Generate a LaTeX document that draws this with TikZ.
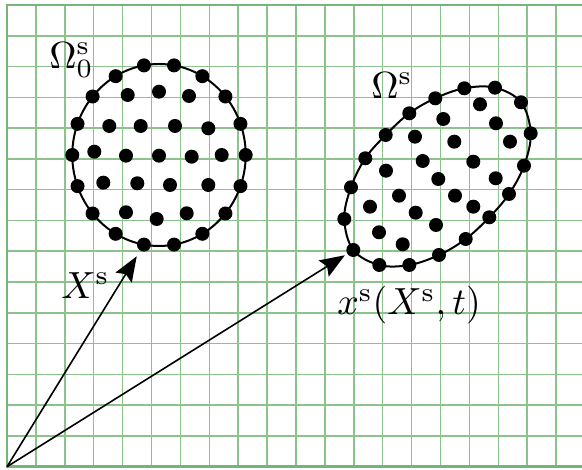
\documentclass[tikz,border=0pt]{standalone}
\usetikzlibrary{arrows.meta}
\definecolor{gridgreen}{RGB}{140,195,140}
\definecolor{bordergreen}{RGB}{120,180,120}
\begin{document}
\begin{tikzpicture}[x=1pt,y=1pt,
  gridline/.style={draw=gridgreen,line width=1.5pt},
  borderline/.style={draw=bordergreen,line width=2.8pt},
  dot/.style={circle,fill=black,inner sep=0pt,minimum size=14pt},
  outline/.style={draw=black,line width=2pt},
  vec/.style={line width=1.6pt,-{Stealth[length=25pt,width=19pt,inset=4pt]}},
  lbl/.style={inner sep=0pt,scale=3.78,anchor=base west}]
\useasboundingbox (0,0) rectangle (582,470);
\clip (0,0) rectangle (582,470);
% grid
\foreach \k in {1,...,19} \draw[gridline] ({7+28.9*\k},3.3) -- ({7+28.9*\k},465);
\foreach \k in {1,...,14} \draw[gridline] (7,{3.3+30.78*\k}) -- (582,{3.3+30.78*\k});
\draw[borderline] (590,465) -- (7,465) -- (7,3.3) -- (590,3.3);
% reference configuration
\draw[outline] (159,315) ellipse [x radius=86.7, y radius=91];
\foreach \a [count=\i] in {0,20,...,340}
  \node[dot] (b\i) at ({159+86.7*cos(\a)},{315+91*sin(\a)}) {};
\foreach \x/\y [count=\i] in {127.7/375,159/378.3,189/374,109.3/344,140.7/344,175/344,208.3/341.7,94.3/318.3,126/314.3,159/314.3,191.7/313.3,221.7/315,103.3/287.3,137.3/286.7,170/285,208.3/285,126/257.7,156.7/251,186.7/256.7}
  \node[dot] (bi\i) at (\x,\y) {};
% current configuration
\draw[outline] plot[smooth cycle, tension=0.6] coordinates {(464.3,381.7) (495,382.3) (521,367.7) (530.7,336.7) (524,304.3) (509,276) (489.3,252.7) (465.7,231) (439,215) (409.3,205) (379.3,205) (353.3,220) (344.3,251) (351,282.7) (365.3,311.7) (385.7,335) (409.3,356.7) (435.3,371.7)};
\foreach \x/\y [count=\i] in {464.3/381.7,495/382.3,521/367.7,530.7/336.7,524/304.3,509/276,489.3/252.7,465.7/231,439/215,409.3/205,379.3/205,353.3/220,344.3/251,351/282.7,365.3/311.7,385.7/335,409.3/356.7,435.3/371.7}
  \node[dot] (r\i) at (\x,\y) {};
\foreach \x/\y [count=\i] in {480/365.7,443.3/351,496/346.7,415/333.3,454.3/328.3,510/328.3,422.7/309,473.3/308.3,386/299.3,438.3/291,495.7/291.7,399/274.3,455/274.3,473.3/263.3,370/263.3,415.7/257.3,436/245,379/237.7,402.7/225.7}
  \node[dot] (ri\i) at (\x,\y) {};
% vectors
\coordinate (O) at (7,3.3);
\draw[vec, shorten >=6.5pt] (O) -- (b14);
\draw[vec, shorten >=2.7pt] (O) -- (r12);
% labels
\node[lbl] (L0) at (48.5,401.7) {$\Omega_0^{\mathrm{s}}$};
\node[lbl] (L1) at (370.5,371.7) {$\Omega^{\mathrm{s}}$};
\node[lbl] (L2) at (60.5,171.7) {$X^{\mathrm{s}}$};
\node[lbl] (L3) at (336.5,155) {$x^{\mathrm{s}}(X^{\mathrm{s}},t)$};
\end{tikzpicture}
\end{document}
